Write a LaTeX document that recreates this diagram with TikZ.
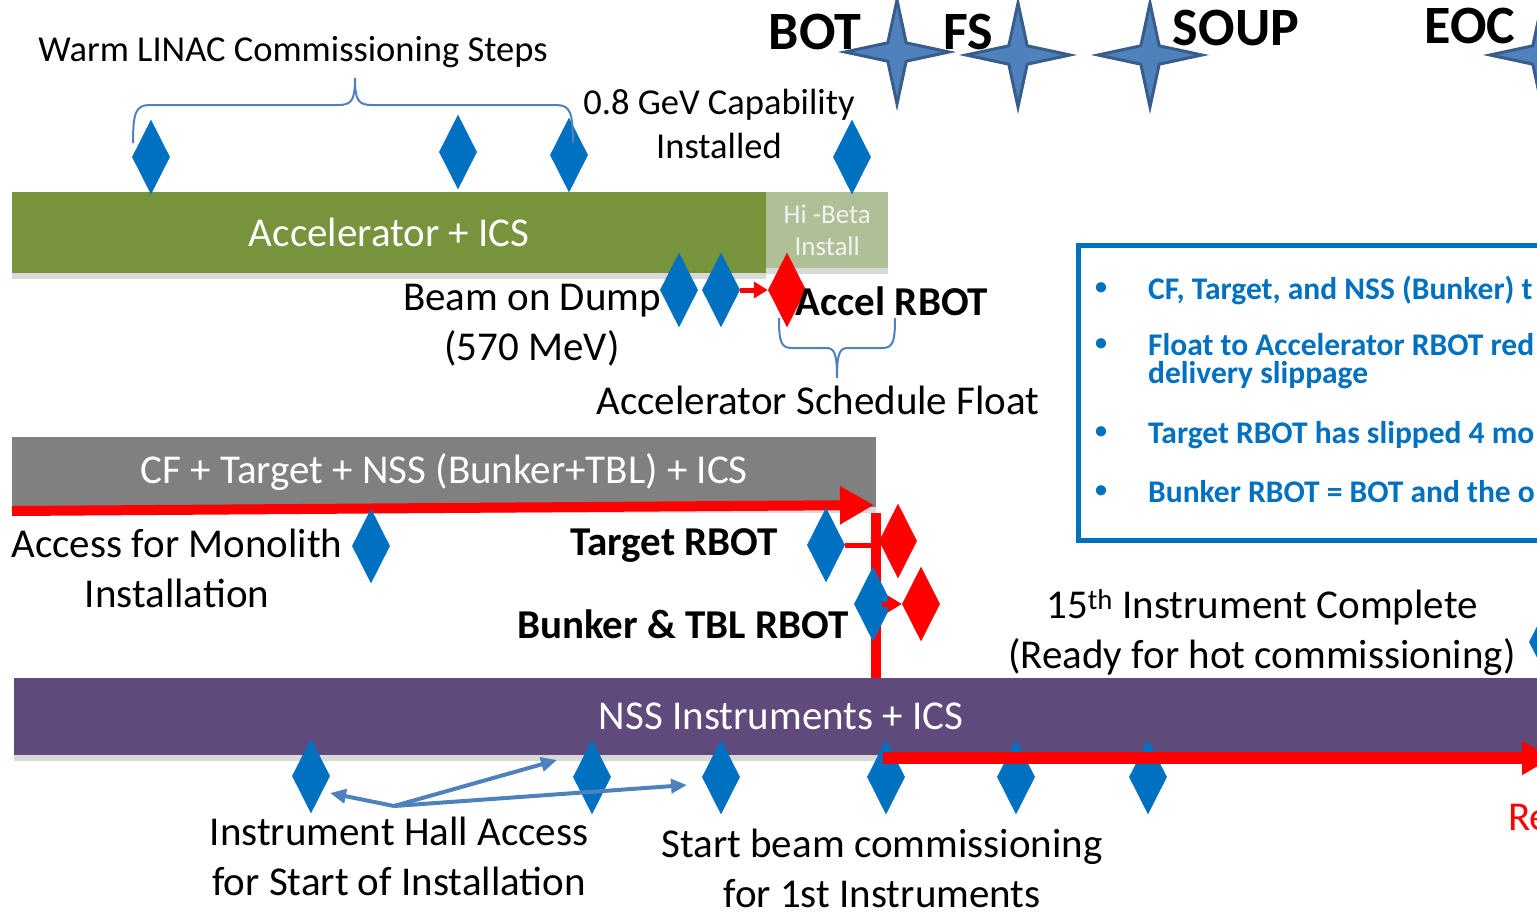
\documentclass[tikz,border=0pt]{standalone}
\usepackage{fontspec}
\setmainfont{Carlito}
\usetikzlibrary{shapes.geometric,arrows.meta,shadows,positioning}
\definecolor{accgreen}{HTML}{77933C}
\definecolor{hibeta}{HTML}{B0C096}
\definecolor{cfgray}{HTML}{808080}
\definecolor{nsspurple}{HTML}{604A7B}
\definecolor{msblue}{HTML}{0070C0}
\definecolor{starblue}{HTML}{4F81BD}
\definecolor{stardark}{HTML}{385D8A}
\definecolor{slipred}{HTML}{FF0000}
\begin{document}
\begin{tikzpicture}[x=1pt,y=-1pt,
  mile/.style={diamond, fill=msblue, draw=none, inner sep=0pt, minimum width=38pt, minimum height=75pt},
  slip/.style={mile, fill=slipred},
  milestar/.style={star, star points=4, star point ratio=4, fill=starblue, draw=stardark, line width=3pt, minimum size=104pt, inner sep=0pt},
  bar/.style={anchor=north west, inner sep=0pt, text=white, font=\fontsize{41}{48}\selectfont, drop shadow={shadow xshift=0pt, shadow yshift=-6pt, opacity=0.3}},
  lbl/.style={inner sep=0pt, align=center, font=\fontsize{41}{50}\selectfont},
  smalllbl/.style={inner sep=0pt, align=center, font=\fontsize{36.5}{44}\selectfont},
  boldlbl/.style={inner sep=0pt, font=\bfseries\fontsize{41}{48}\selectfont},
  toplbl/.style={inner sep=0pt, font=\bfseries\fontsize{54}{60}\selectfont},
  note/.style={inner sep=0pt, anchor=base west, text=msblue, align=left, font=\bfseries\fontsize{31.5}{28}\selectfont},
  bulletmark/.style={inner sep=0pt, text=msblue, font=\bfseries\fontsize{24}{28}\selectfont},
  brace/.style={draw=starblue, line width=2pt},
  redbar/.style={draw=slipred, line width=10pt, -{Triangle[length=34pt,width=36pt]}},
  redtick/.style={draw=slipred, line width=5pt},
  redtickarrow/.style={redtick, -{Triangle[length=14pt,width=16pt]}},
  hallarrow/.style={draw=starblue, line width=4pt, -{Triangle[length=16pt,width=14pt]}}]
\useasboundingbox (0,0) rectangle (1537,914);
\clip (0,0) rectangle (1537,914);
% schedule bars
\node [bar, fill=accgreen, minimum width=754pt, minimum height=81pt] (accbar) at (12,192) {Accelerator + ICS};
\node [bar, fill=hibeta, text=white!95!black, minimum width=122pt, minimum height=76pt, align=center, font=\fontsize{27}{32}\selectfont] (hibetabar) at (766,192) {Hi -Beta\\Install};
\node [bar, fill=cfgray, minimum width=864pt, minimum height=70pt] (cfbar) at (12,437) {CF + Target + NSS (Bunker+TBL) + ICS};
\node [bar, fill=nsspurple, minimum width=1534pt, minimum height=77pt] (nssbar) at (14,678) {NSS Instruments + ICS};
% red slip lines
\coordinate (cfstart) at (12,511);
\coordinate (cfend) at (874,505);
\draw [redbar] (cfstart) -- (cfend);
\coordinate (linktop) at (876,513);
\draw [draw=slipred, line width=10pt] (linktop) -- (linktop |- nssbar.north);
% milestones
\node [mile] (warma) at (151,157) {};
\node [mile] (warmb) at (458,152) {};
\node [mile] (warmc) at (569,155) {};
\node [mile] (capm) at (852,157) {};
\node [mile] (dumpa) at (679,290) {};
\node [mile] (dumpb) at (721,290) {};
\node [slip] (accelm) at (787,290) {};
\node [mile] (monom) at (371,546) {};
\node [mile] (targm) at (826,545) {};
\node [slip] (targr) at (898,541) {};
\node [mile] (bunkm) at (873,604) {};
\node [slip] (bunkr) at (921,604) {};
\node [mile] (nssa) at (311,776) {};
\node [mile] (nssb) at (592,777) {};
\node [mile] (nssc) at (721,777) {};
\node [mile] (nssd) at (886,777) {};
\node [mile] (nsse) at (1016,777) {};
\node [mile] (nssf) at (1148,777) {};
\node [mile] (nssg) at (1548,642) {};
\draw [redtickarrow] (dumpb.east) -- (accelm.west);
\draw [redtick] (targm.east) -- (targm.east -| linktop);
\coordinate (bunkfrom) at (882,604);
\draw [redtickarrow] (bunkfrom) -- (bunkr.west);
\coordinate (nssfrom) at (883,758);
\coordinate (nssto) at (1552,758);
\draw [draw=slipred, line width=12pt, -{Triangle[length=30pt,width=32pt]}] (nssfrom) -- (nssto);
% top milestones
\node [milestar] (botstar) at (897,52) {};
\node [milestar] (fsstar) at (1018,55) {};
\node [milestar] (soupstar) at (1150,55) {};
\node [milestar] (eocstar) at (1542,55) {};
\node [toplbl] (botlbl) at (815,32) {BOT};
\node [toplbl] (fslbl) at (968,32) {FS};
\node [toplbl] (souplbl) at (1236,28) {SOUP};
\node [toplbl] (eoclbl) at (1470,26) {EOC};
% labels
\node [smalllbl] (warmlbl) at (293,52) {Warm LINAC Commissioning Steps};
\node [smalllbl] (caplbl) at (719,124) {0.8 GeV Capability\\Installed};
\node [lbl] (dumplbl) at (532,325) {Beam on Dump\\(570 MeV)};
\node [boldlbl] (accellbl) at (892,301) {Accel RBOT};
\node [lbl] (floatlbl) at (818,400) {Accelerator Schedule Float};
\node [lbl] (monolbl) at (177,568) {Access for Monolith\\Installation};
\node [boldlbl] (targlbl) at (674,546) {Target RBOT};
\node [boldlbl] (bunklbl) at (683,624) {Bunker \& TBL RBOT};
\node [lbl] (fifteenlbl) at (1262,633) {15\textsuperscript{th} Instrument Complete\\(Ready for hot commissioning)};
\node [lbl] (halllbl) at (399,856) {Instrument Hall Access\\for Start of Installation};
\node [lbl] (beamlbl) at (882,868) {Start beam commissioning\\for 1st Instruments};
\node [lbl, text=slipred, anchor=west] (relbl) at (1508,817) {Re};
% braces
\draw [brace] (133,143) .. controls (133,112) and (136,105) .. (150,105) -- (338,105) .. controls (352,105) and (355,100) .. (355,78) .. controls (355,100) and (358,105) .. (372,105) -- (556,105) .. controls (570,105) and (573,112) .. (573,143);
\draw [brace] (779,318) .. controls (779,342) and (781,348) .. (792,348) -- (826,348) .. controls (834,348) and (837,352) .. (837,378) .. controls (837,352) and (840,348) .. (848,348) -- (882,348) .. controls (893,348) and (895,342) .. (895,318);
% instrument hall arrows
\coordinate (hall) at (394,806);
\coordinate (halla) at (330,793);
\coordinate (hallb) at (557,760);
\coordinate (hallc) at (687,785);
\draw [hallarrow] (hall) -- (halla);
\draw [hallarrow] (hall) -- (hallb);
\draw [hallarrow] (hall) -- (hallc);
% notes box
\draw [draw=msblue, line width=5pt] (1078,245) rectangle (1580,540);
\node [bulletmark] (bula) at (1101,289) {•};
\node [bulletmark] (bulb) at (1101,345) {•};
\node [bulletmark] (bulc) at (1101,433) {•};
\node [bulletmark] (buld) at (1101,492) {•};
\node [note] (notea) at (1148,299) {CF, Target, and NSS (Bunker) t};
\node [note, anchor=north west] (noteb) at (1148,333) {Float to Accelerator RBOT red\\delivery slippage};
\node [note] (notec) at (1148,443) {Target RBOT has slipped 4 mo};
\node [note] (noted) at (1148,502) {Bunker RBOT = BOT and the o};
\end{tikzpicture}
\end{document}
